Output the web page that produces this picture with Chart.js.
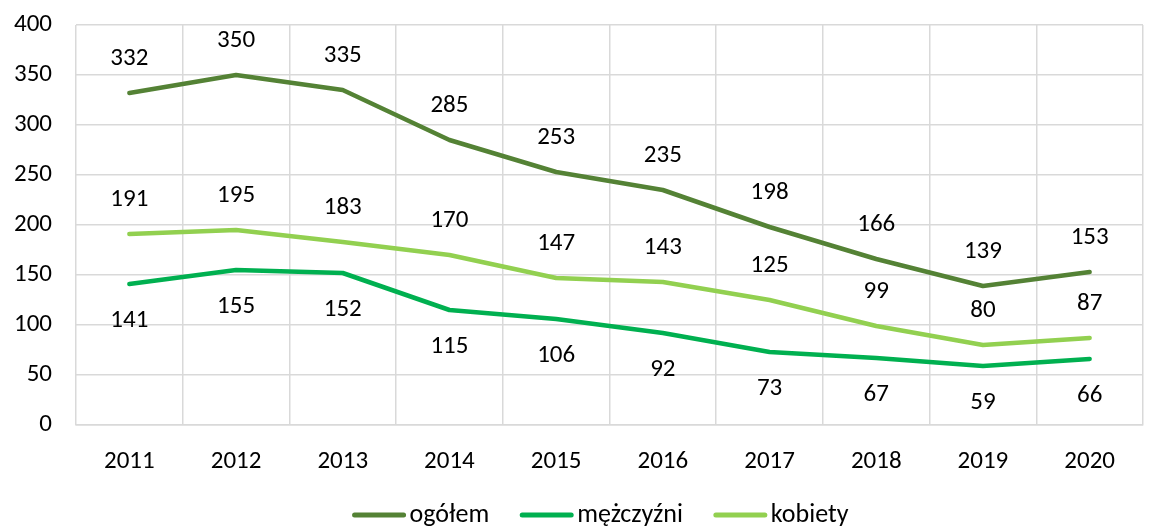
<!DOCTYPE html>
<html>
<head>
<meta charset="utf-8">
<script src="https://cdn.jsdelivr.net/npm/chart.js@4"></script>
<style>
  html, body { margin: 0; padding: 0; background: #fff; }
  #wrap { width: 1159px; height: 527px; }
</style>
</head>
<body>
<div id="wrap"><canvas id="myChart" width="1159" height="527"></canvas></div>
<script>
"use strict";

const years = ["2011", "2012", "2013", "2014", "2015", "2016", "2017", "2018", "2019", "2020"];
const ogolem = [332, 350, 335, 285, 253, 235, 198, 166, 139, 153];
const mezczyzni = [141, 155, 152, 115, 106, 92, 73, 67, 59, 66];
const kobiety = [191, 195, 183, 170, 147, 143, 125, 99, 80, 87];

const FONT = "Carlito, Calibri, 'Open Sans', sans-serif";
const FSIZE = 25;

// draws the value labels, above or below each point
const valueLabels = {
  id: "valueLabels",
  afterDatasetsDraw(chart) {
    const ctx = chart.ctx;
    ctx.save();
    ctx.font = FSIZE + "px " + FONT;
    ctx.fillStyle = "#000";
    ctx.textAlign = "center";
    ctx.textBaseline = "middle";
    chart.data.datasets.forEach((ds, i) => {
      const meta = chart.getDatasetMeta(i);
      meta.data.forEach((pt, j) => {
        const dy = ds.labelPos === "below" ? 37 : -34;
        ctx.fillText(ds.data[j], pt.x, pt.y + dy);
      });
    });
    ctx.restore();
  }
};

// legend at the bottom: thick line swatch with the text right after it
const bottomLegend = {
  id: "bottomLegend",
  afterDraw(chart) {
    const ctx = chart.ctx;
    ctx.save();
    ctx.font = "26px " + FONT;
    ctx.textBaseline = "middle";
    ctx.textAlign = "left";
    const y = 515, lineW = 55, gap = 3, between = 30;
    const items = chart.data.datasets.map(ds => ({ ds, w: lineW + gap + ctx.measureText(ds.label).width }));
    const total = items.reduce((s, it) => s + it.w, 0) + between * (items.length - 1);
    let x = 600 - total / 2;
    items.forEach(it => {
      ctx.strokeStyle = it.ds.borderColor;
      ctx.lineWidth = 5;
      ctx.lineCap = "round";
      ctx.beginPath();
      ctx.moveTo(x + 3, y);
      ctx.lineTo(x + lineW - 3, y);
      ctx.stroke();
      ctx.fillStyle = "#000";
      ctx.fillText(it.ds.label, x + lineW + gap, y);
      x += it.w + between;
    });
    ctx.restore();
  }
};

const data = {
  labels: years,
  datasets: [
    { label: "ogółem", data: ogolem, borderColor: "#548235", backgroundColor: "#548235", labelPos: "above" },
    { label: "mężczyźni", data: mezczyzni, borderColor: "#00b050", backgroundColor: "#00b050", labelPos: "below" },
    { label: "kobiety", data: kobiety, borderColor: "#92d050", backgroundColor: "#92d050", labelPos: "above" }
  ]
};

const config = {
  type: "line",
  data: data,
  options: {
    responsive: false,
    animation: false,
    layout: { padding: { top: 25, right: 16, left: 0, bottom: 0 } },
    elements: {
      line: { borderWidth: 4.5, borderCapStyle: "round", borderJoinStyle: "round", tension: 0 },
      point: { radius: 0 }
    },
    plugins: {
      legend: { display: false },
      tooltip: { enabled: false }
    },
    scales: {
      x: {
        offset: true,
        grid: { offset: true, color: "#d9d9d9", lineWidth: 1.5, drawTicks: false },
        border: { color: "#d9d9d9", width: 1.5 },
        ticks: { color: "#000", padding: 22, font: { family: FONT, size: FSIZE } },
        afterFit(scale) { scale.height = 102; }
      },
      y: {
        min: 0,
        max: 400,
        grid: { color: "#d9d9d9", lineWidth: 1.5, drawTicks: false },
        border: { display: false },
        ticks: { stepSize: 50, color: "#000", padding: 24, font: { family: FONT, size: FSIZE } },
        afterFit(scale) {
          scale.width = 76;
          scale.paddingTop = 0;
          scale.paddingBottom = 0;
        }
      }
    }
  },
  plugins: [valueLabels, bottomLegend]
};

const myChart = new Chart(document.getElementById("myChart"), config);
</script>
</body>
</html>
